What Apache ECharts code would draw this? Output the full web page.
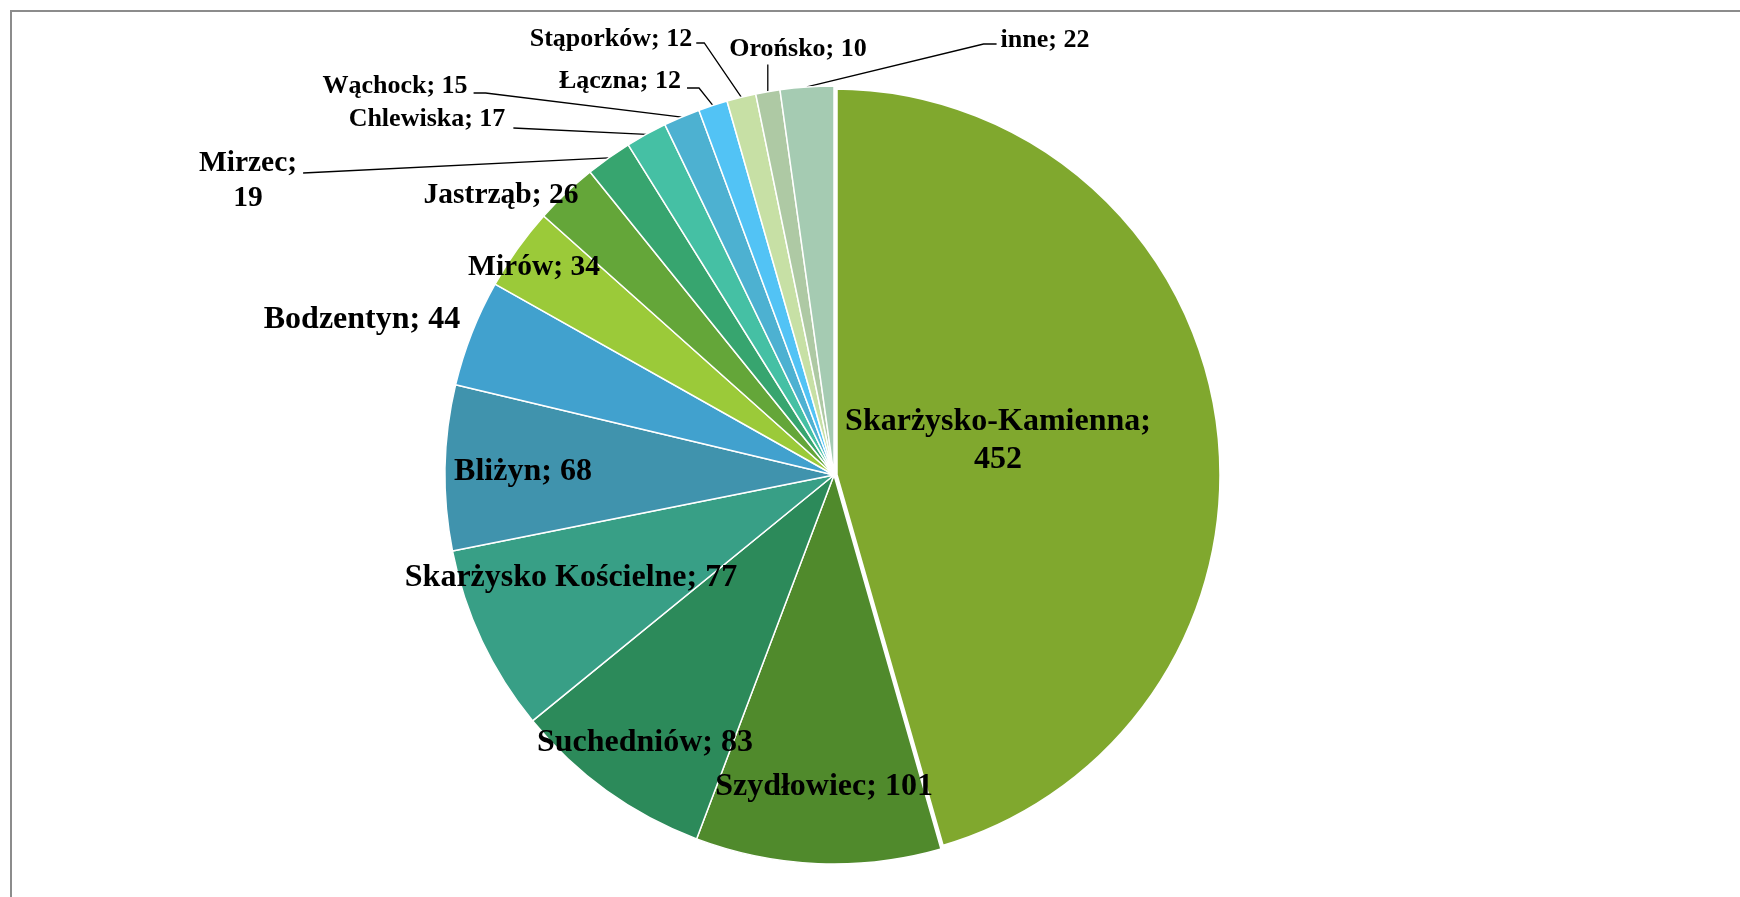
<!DOCTYPE html>
<html>
<head>
<meta charset="utf-8">
<script src="https://cdn.jsdelivr.net/npm/echarts@6/dist/echarts.min.js"></script>
<style>
  html, body { margin: 0; padding: 0; background: #ffffff; }
  #chart { width: 1740px; height: 897px; }
</style>
</head>
<body>
<div id="chart"></div>
<script>
// Gminy (clockwise from 12 o'clock) and their counts
const gminy = [
  'Skarżysko-Kamienna', 'Szydłowiec', 'Suchedniów', 'Skarżysko Kościelne',
  'Bliżyn', 'Bodzentyn', 'Mirów', 'Jastrząb', 'Mirzec', 'Chlewiska',
  'Wąchock', 'Łączna', 'Stąporków', 'Orońsko', 'inne'
];
const liczby = [452, 101, 83, 77, 68, 44, 34, 26, 19, 17, 15, 12, 12, 10, 22];
const kolory = [
  '#80A82E', '#508A2C', '#2C8A5A', '#389F86', '#4093AD', '#41A1CE', '#9BCA39',
  '#64A639', '#37A56F', '#45C0A4', '#4DB1D1', '#52C3F5', '#C7E0A5', '#AEC9A4', '#A5CBB2'
];

// Pie geometry
const CX = 834, CY = 475, R = 389;

// Labels broken onto two lines
const twoLine = { 'Skarżysko-Kamienna': true, 'Mirzec': true };

// Label font sizes
const labelSize = {
  'Skarżysko-Kamienna': 32, 'Szydłowiec': 32, 'Suchedniów': 32, 'Skarżysko Kościelne': 32,
  'Bliżyn': 32, 'Bodzentyn': 32, 'Mirów': 29.5, 'Jastrząb': 29.5, 'Mirzec': 29.5,
  'Chlewiska': 26, 'Wąchock': 26, 'Łączna': 26, 'Stąporków': 26, 'Orońsko': 26, 'inne': 26
};

// Label centres, relative to the pie centre
const labelOffset = {
  'Skarżysko-Kamienna': [164, -34], 'Szydłowiec': [-10, 312], 'Suchedniów': [-189, 268],
  'Skarżysko Kościelne': [-263, 103], 'Bliżyn': [-311, -3], 'Bodzentyn': [-472, -155],
  'Mirów': [-300, -208], 'Jastrząb': [-333, -280], 'Mirzec': [-586, -294],
  'Chlewiska': [-407, -356], 'Wąchock': [-439, -389], 'Łączna': [-214, -394],
  'Stąporków': [-223, -436], 'Orońsko': [-36, -426], 'inne': [211, -435]
};

// Leader lines: which side of the label they leave from, gap, vertical shift, horizontal stub
const leaders = {
  'Mirzec':    { side: 'right',  gap: 6, dy: -8, stub: 0 },
  'Chlewiska': { side: 'right',  gap: 8, dy: 9,  stub: 0 },
  'Wąchock':   { side: 'right',  gap: 6, dy: 7,  stub: 12 },
  'Łączna':    { side: 'right',  gap: 6, dy: 7,  stub: 12 },
  'Stąporków': { side: 'right',  gap: 4, dy: 4,  stub: 8 },
  'Orońsko':   { side: 'bottom', gap: 0, dy: 0,  stub: 0 },
  'inne':      { side: 'left',   gap: 4, dy: 4,  stub: 13 }
};

const seriesData = gminy.map(function (name, i) {
  const item = {
    name: name,
    value: liczby[i],
    itemStyle: { color: kolory[i] },
    label: { fontSize: labelSize[name], lineHeight: Math.round(labelSize[name] * 1.18) },
    labelLine: { show: !!leaders[name] }
  };
  // the largest slice is set apart by a wider white gap
  if (i === 0) item.itemStyle.borderWidth = 7.5;
  return item;
});

const chart = echarts.init(document.getElementById('chart'), null, { renderer: 'canvas' });

chart.setOption({
  backgroundColor: '#ffffff',
  animation: false,
  graphic: [{
    type: 'rect',
    silent: true,
    shape: { x: 11, y: 11, width: 1900, height: 1000 },
    style: { fill: null, stroke: '#8c8c8c', lineWidth: 2 }
  }],
  series: [{
    type: 'pie',
    center: [CX, CY],
    radius: R,
    startAngle: 90,
    clockwise: true,
    avoidLabelOverlap: false,
    emphasis: { disabled: true },
    itemStyle: { borderColor: '#ffffff', borderWidth: 1.5 },
    label: {
      show: true,
      position: 'outside',
      color: '#000000',
      fontFamily: '"Liberation Serif", "Times New Roman", serif',
      fontWeight: 'bold',
      formatter: function (p) {
        return p.name + ';' + (twoLine[p.name] ? '\n' : ' ') + p.value;
      }
    },
    labelLine: {
      lineStyle: { color: '#000000', width: 1.3 },
      length: 10,
      length2: 10
    },
    labelLayout: function (p) {
      const name = gminy[p.dataIndex];
      const o = labelOffset[name];
      const x = CX + o[0];
      const y = CY + o[1];
      const res = { x: x, y: y, align: 'center', verticalAlign: 'middle' };
      const lead = leaders[name];
      if (lead && p.labelLinePoints) {
        const a = [p.labelLinePoints[0][0], p.labelLinePoints[0][1]];
        const w = p.labelRect.width;
        const h = p.labelRect.height;
        let end, elbow;
        if (lead.side === 'right') {
          end = [x + w / 2 + lead.gap, y + lead.dy];
          elbow = [end[0] + lead.stub, end[1]];
        } else if (lead.side === 'left') {
          end = [x - w / 2 - lead.gap, y + lead.dy];
          elbow = [end[0] - lead.stub, end[1]];
        } else {
          end = [a[0], y + h / 2 + lead.gap];
          elbow = end;
        }
        res.labelLinePoints = [a, elbow, end];
      }
      return res;
    },
    data: seriesData
  }]
});
</script>
</body>
</html>
